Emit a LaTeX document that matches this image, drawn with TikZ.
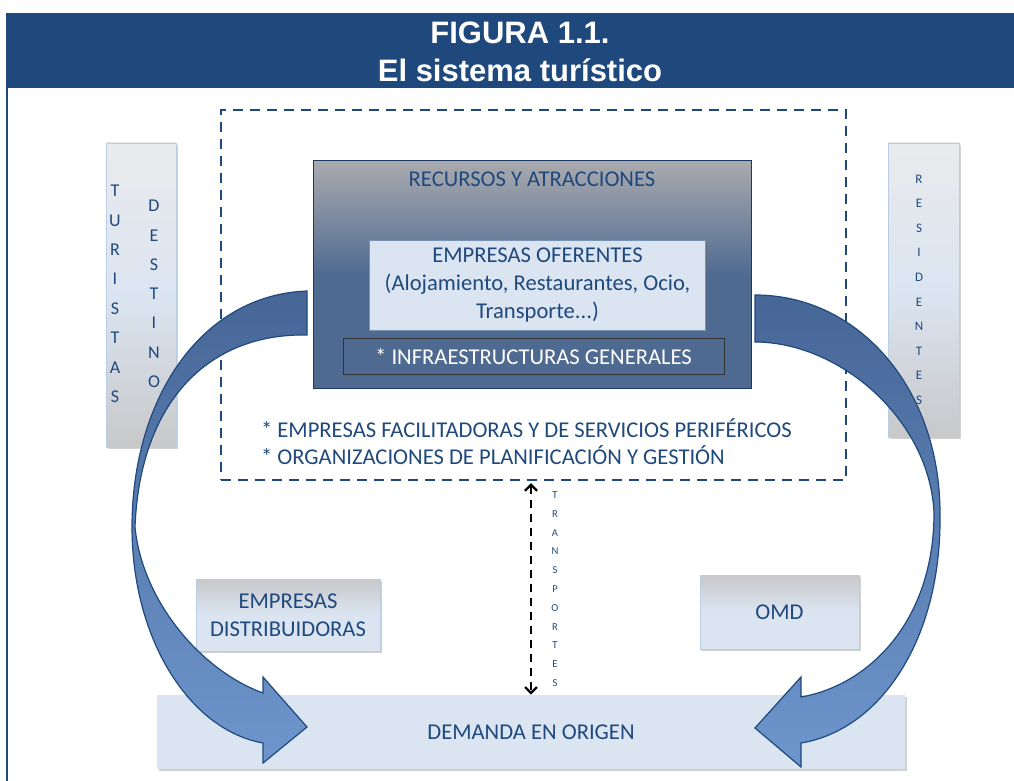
\documentclass[tikz,border=0pt]{standalone}
\usepackage{fontspec}
\setmainfont{Carlito}
\newfontfamily\arialfont{Liberation Sans}
\usetikzlibrary{arrows.meta, shadows}

\definecolor{headblue}{RGB}{31,73,125}
\definecolor{boxblue}{RGB}{79,106,145}
\definecolor{boxgray}{RGB}{170,170,174}
\definecolor{paleblue}{RGB}{219,229,241}
\definecolor{palegray}{RGB}{234,234,236}
\definecolor{midgray}{RGB}{200,200,202}
\definecolor{edgeblue}{RGB}{185,205,229}
\definecolor{arrowdark}{RGB}{70,102,150}
\definecolor{arrowlight}{RGB}{110,150,205}

\begin{document}
\begin{tikzpicture}[x=0.5pt,y=-0.5pt,
 txt/.style={text=headblue,font=\fontsize{11.3}{14}\selectfont,align=center},
 shade/.style={drop shadow={shadow xshift=0.8pt,shadow yshift=-1.2pt,opacity=.3,fill=black!60}},
 sidebox/.style={draw=edgeblue,line width=.4pt,top color=palegray,bottom color=midgray,middle color=paleblue,
   minimum width=35pt,shade},
 lowbox/.style={txt,draw=edgeblue,line width=.4pt,top color=midgray,bottom color=paleblue,middle color=paleblue,
   shade},
 letter/.style={text=headblue,inner sep=0pt},
 bigarrow/.style={draw=headblue,line width=.6pt,top color=arrowdark,bottom color=arrowlight},
 trans/.style={{Straight Barb[length=3pt,width=6pt]}-{Straight Barb[length=3pt,width=6pt]},line width=1.1pt,
   dash pattern=on 4pt off 3pt,shorten <=1pt}
]
\useasboundingbox (0,0) rectangle (1014,781);

\fill[headblue] (6,13) rectangle (1014,88);
\draw[headblue,line width=1pt] (7,88) -- (7,781);
\node (fig)[text=white,font=\arialfont\bfseries\fontsize{15.5}{18}\selectfont] at (520,33) {FIGURA 1.1.};
\node (tit)[text=white,font=\arialfont\bfseries\fontsize{15.5}{18}\selectfont] at (520,70) {El sistema turístico};

\node (destino)[draw=headblue,line width=1.2pt,dash pattern=on 5pt off 3.5pt,minimum width=312.5pt,
  minimum height=185pt] at (533.5,295) {};

\node (turistas)[sidebox,minimum height=152pt] at (141,295) {};
\node (residentes)[sidebox,minimum width=35.5pt,minimum height=147pt] at (923.5,290) {};
\foreach \l [count=\i from 0] in {T,U,R,I,S,T,A,S}
  \node (tu\i)[letter,font=\fontsize{9}{9}\selectfont] at (115,191+29.4*\i) {\l};
\foreach \l [count=\i from 0] in {D,E,S,T,I,N,O}
  \node (de\i)[letter,font=\fontsize{9}{9}\selectfont] at (154,206+29.3*\i) {\l};
\foreach \l [count=\i from 0] in {R,E,S,I,D,E,N,T,E,S}
  \node (re\i)[letter,font=\fontsize{6.5}{7}\selectfont] at (919,179+24.6*\i) {\l};

\node (distrib)[lowbox,minimum width=92pt,minimum height=36pt] at (288,615) {EMPRESAS\\DISTRIBUIDORAS};
\node (omd)[lowbox,minimum width=79.5pt,minimum height=37pt] at (779.5,612) {OMD};
\node (demanda)[txt,fill=paleblue,minimum width=374pt,minimum height=37pt,shade] at (531,732) {DEMANDA EN ORIGEN};

\draw[trans] (destino.south -| demanda.north) -- (demanda.north);
\foreach \l [count=\i from 0] in {T,R,A,N,S,P,O,R,T,E,S}
  \node (tr\i)[letter,font=\fontsize{5.3}{6}\selectfont] at (555,495+18.8*\i) {\l};

\draw[bigarrow] (307,291) .. controls (200,295) and (132,400) .. (132,527)
  .. controls (132,640) and (190,730) .. (263,743) -- (263,763) -- (307,727) -- (263,677) -- (263,693)
  .. controls (200,670) and (142,600) .. (135,527)
  .. controls (140,400) and (210,333) .. (307,335) -- cycle;
\draw[bigarrow] (755,295) .. controls (860,295) and (940,390) .. (940,513)
  .. controls (942,640) and (880,730) .. (801,743) -- (801,767) -- (755,728) -- (801,677) -- (801,697)
  .. controls (870,685) and (934,620) .. (934,513)
  .. controls (930,420) and (840,342) .. (755,342) -- cycle;

\node (recursos)[draw=headblue!80!black,line width=.5pt,top color=boxgray,bottom color=boxblue,middle color=boxblue,
  minimum width=219pt,minimum height=114pt] at (532,275) {};
\node (rectxt)[txt] at (532,179) {RECURSOS Y ATRACCIONES};
\node (oferentes)[txt,draw=headblue!60,line width=.4pt,fill=paleblue,minimum width=168pt,minimum height=45pt,shade]
  at (537.5,285) {EMPRESAS OFERENTES\\(Alojamiento, Restaurantes, Ocio,\\Transporte...)};
\node (infra)[txt,text=white,draw=black!80,line width=.5pt,fill=boxblue,minimum width=190.5pt,minimum height=18pt]
  at (533.5,357) {* INFRAESTRUCTURAS GENERALES};
\node (facil)[txt,align=left,anchor=west,font=\fontsize{11.3}{13.5}\selectfont] at (254,441.5)
  {* EMPRESAS FACILITADORAS Y DE SERVICIOS PERIFÉRICOS\\* ORGANIZACIONES DE PLANIFICACIÓN Y GESTIÓN};
\end{tikzpicture}
\end{document}
